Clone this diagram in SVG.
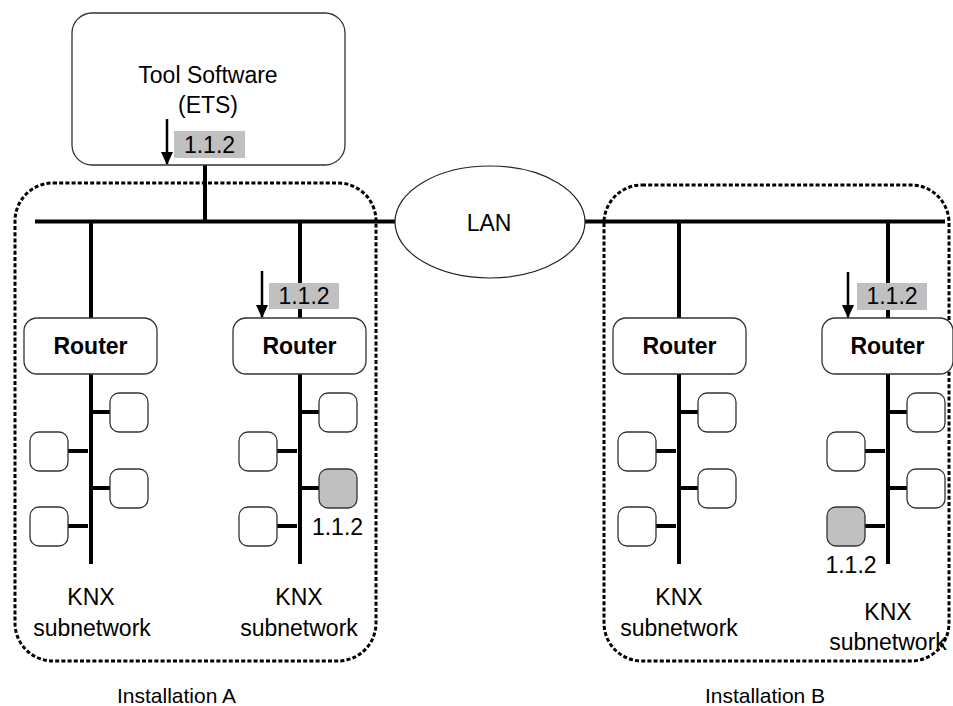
<svg xmlns="http://www.w3.org/2000/svg" width="953" height="706" viewBox="0 0 953 706">
<style>
text{font-family:"Liberation Sans",Arial,sans-serif;fill:#000}
.t{font-size:23px;text-anchor:middle}
.b{font-size:23px;font-weight:bold;text-anchor:middle}
.box{fill:#fff;stroke:#333;stroke-width:1.3}
.dev{fill:#fff;stroke:#333;stroke-width:1.3}
.sel{fill:#c0c0c0;stroke:#333;stroke-width:1.3}
.lab{fill:#c0c0c0}
.w{stroke:#000;stroke-width:4;fill:none}
.arr{stroke:#000;stroke-width:2.5;fill:none}
.dash{fill:none;stroke:#000;stroke-width:3;stroke-dasharray:4 2.2}
</style>
<defs>
<marker id="ahd" markerUnits="userSpaceOnUse" markerWidth="14" markerHeight="12" refX="12" refY="6" orient="auto" viewBox="0 0 14 12">
<path d="M0,0 L13,6 L0,12 Z" fill="#000"/>
</marker>
</defs>

<g id="installationA-frame"><rect class="dash" x="15" y="183" width="361" height="478" rx="38"/></g>
<g id="installationB-frame"><rect class="dash" x="604" y="185" width="345" height="476" rx="38"/></g>

<g id="connectors">
<line class="w" x1="205" y1="165" x2="205" y2="221"/>
<line class="w" x1="35" y1="221.5" x2="395" y2="221.5"/>
<line class="w" x1="585" y1="221.5" x2="945" y2="221.5"/>
<line class="w" x1="91" y1="221" x2="91" y2="318"/>
<line class="w" x1="300" y1="221" x2="300" y2="318"/>
<line class="w" x1="679" y1="221" x2="679" y2="318"/>
<line class="w" x1="888" y1="221" x2="888" y2="318"/>
<line class="w" x1="91" y1="374" x2="91" y2="564"/>
<line class="w" x1="300" y1="374" x2="300" y2="564"/>
<line class="w" x1="679" y1="374" x2="679" y2="564"/>
<line class="w" x1="888" y1="374" x2="888" y2="564"/>
<path class="w" d="M91,412H110M68,451H88M91,488H110M68,526H88"/>
<path class="w" d="M300,412H319M277,451H297M300,488H319M277,526H297"/>
<path class="w" d="M679,412H698M656,451H676M679,488H698M656,526H676"/>
<path class="w" d="M888,412H907M865,451H885M888,488H907M865,526H885"/>
</g>

<g id="tool">
<rect class="box" x="72" y="13" width="273" height="152" rx="20"/>
<text class="t" x="208" y="83">Tool Software</text>
<text class="t" x="208" y="113">(ETS)</text>
<rect class="lab" x="174" y="131" width="71" height="27"/>
<text class="t" x="209.5" y="153">1.1.2</text>
</g>

<g id="lan">
<ellipse cx="490" cy="222" rx="95" ry="56" fill="#fff" stroke="#222" stroke-width="1.2"/>
<text class="t" x="489" y="231">LAN</text>
</g>

<g id="routerA1"><rect class="box" x="24" y="318" width="133" height="56" rx="13"/><text class="b" x="90.5" y="354">Router</text></g>
<g id="routerA2"><rect class="box" x="233" y="318" width="133" height="56" rx="13"/><text class="b" x="299.5" y="354">Router</text>
<rect class="lab" x="269" y="283" width="70" height="26"/><text class="t" x="304" y="304">1.1.2</text></g>
<g id="routerB1"><rect class="box" x="613" y="318" width="133" height="56" rx="13"/><text class="b" x="679.5" y="354">Router</text></g>
<g id="routerB2"><rect class="box" x="822" y="318" width="131" height="56" rx="13"/><text class="b" x="887.5" y="354">Router</text>
<rect class="lab" x="857" y="283" width="70" height="27"/><text class="t" x="892" y="304">1.1.2</text></g>

<g id="download-arrows">
<line class="arr" x1="167" y1="119" x2="167" y2="164" marker-end="url(#ahd)"/>
<line class="arr" x1="262" y1="271" x2="262" y2="317" marker-end="url(#ahd)"/>
<line class="arr" x1="848" y1="272" x2="848" y2="317" marker-end="url(#ahd)"/>
</g>

<g id="subnetA1">
<rect class="dev" x="30" y="432" width="38" height="39" rx="9"/>
<rect class="dev" x="110" y="393" width="38" height="39" rx="9"/>
<rect class="dev" x="110" y="469" width="38" height="39" rx="9"/>
<rect class="dev" x="30" y="507" width="38" height="39" rx="9"/>
<text class="t" x="91" y="605">KNX</text>
<text class="t" x="92" y="636">subnetwork</text>
</g>
<g id="subnetA2">
<rect class="dev" x="319" y="393" width="38" height="39" rx="9"/>
<rect class="dev" x="239" y="432" width="38" height="39" rx="9"/>
<rect class="sel" x="319" y="469" width="38" height="39" rx="9"/>
<rect class="dev" x="239" y="507" width="38" height="39" rx="9"/>
<text class="t" x="337.5" y="535">1.1.2</text>
<text class="t" x="299" y="605">KNX</text>
<text class="t" x="299" y="636">subnetwork</text>
</g>
<g id="subnetB1">
<rect class="dev" x="698" y="393" width="38" height="39" rx="9"/>
<rect class="dev" x="618" y="432" width="38" height="39" rx="9"/>
<rect class="dev" x="698" y="469" width="38" height="39" rx="9"/>
<rect class="dev" x="618" y="507" width="38" height="39" rx="9"/>
<text class="t" x="679" y="605">KNX</text>
<text class="t" x="679" y="636">subnetwork</text>
</g>
<g id="subnetB2">
<rect class="dev" x="907" y="393" width="38" height="39" rx="9"/>
<rect class="dev" x="827" y="432" width="38" height="39" rx="9"/>
<rect class="dev" x="907" y="469" width="38" height="39" rx="9"/>
<rect class="sel" x="827" y="507" width="38" height="39" rx="9"/>
<text class="t" x="851" y="573">1.1.2</text>
<text class="t" x="888" y="620">KNX</text>
<text class="t" x="888" y="650">subnetwork</text>
</g>

<g id="labels">
<text class="t" x="176.5" y="703" style="font-size:21px">Installation A</text>
<text class="t" x="765" y="703" style="font-size:21px">Installation B</text>
</g>
</svg>
